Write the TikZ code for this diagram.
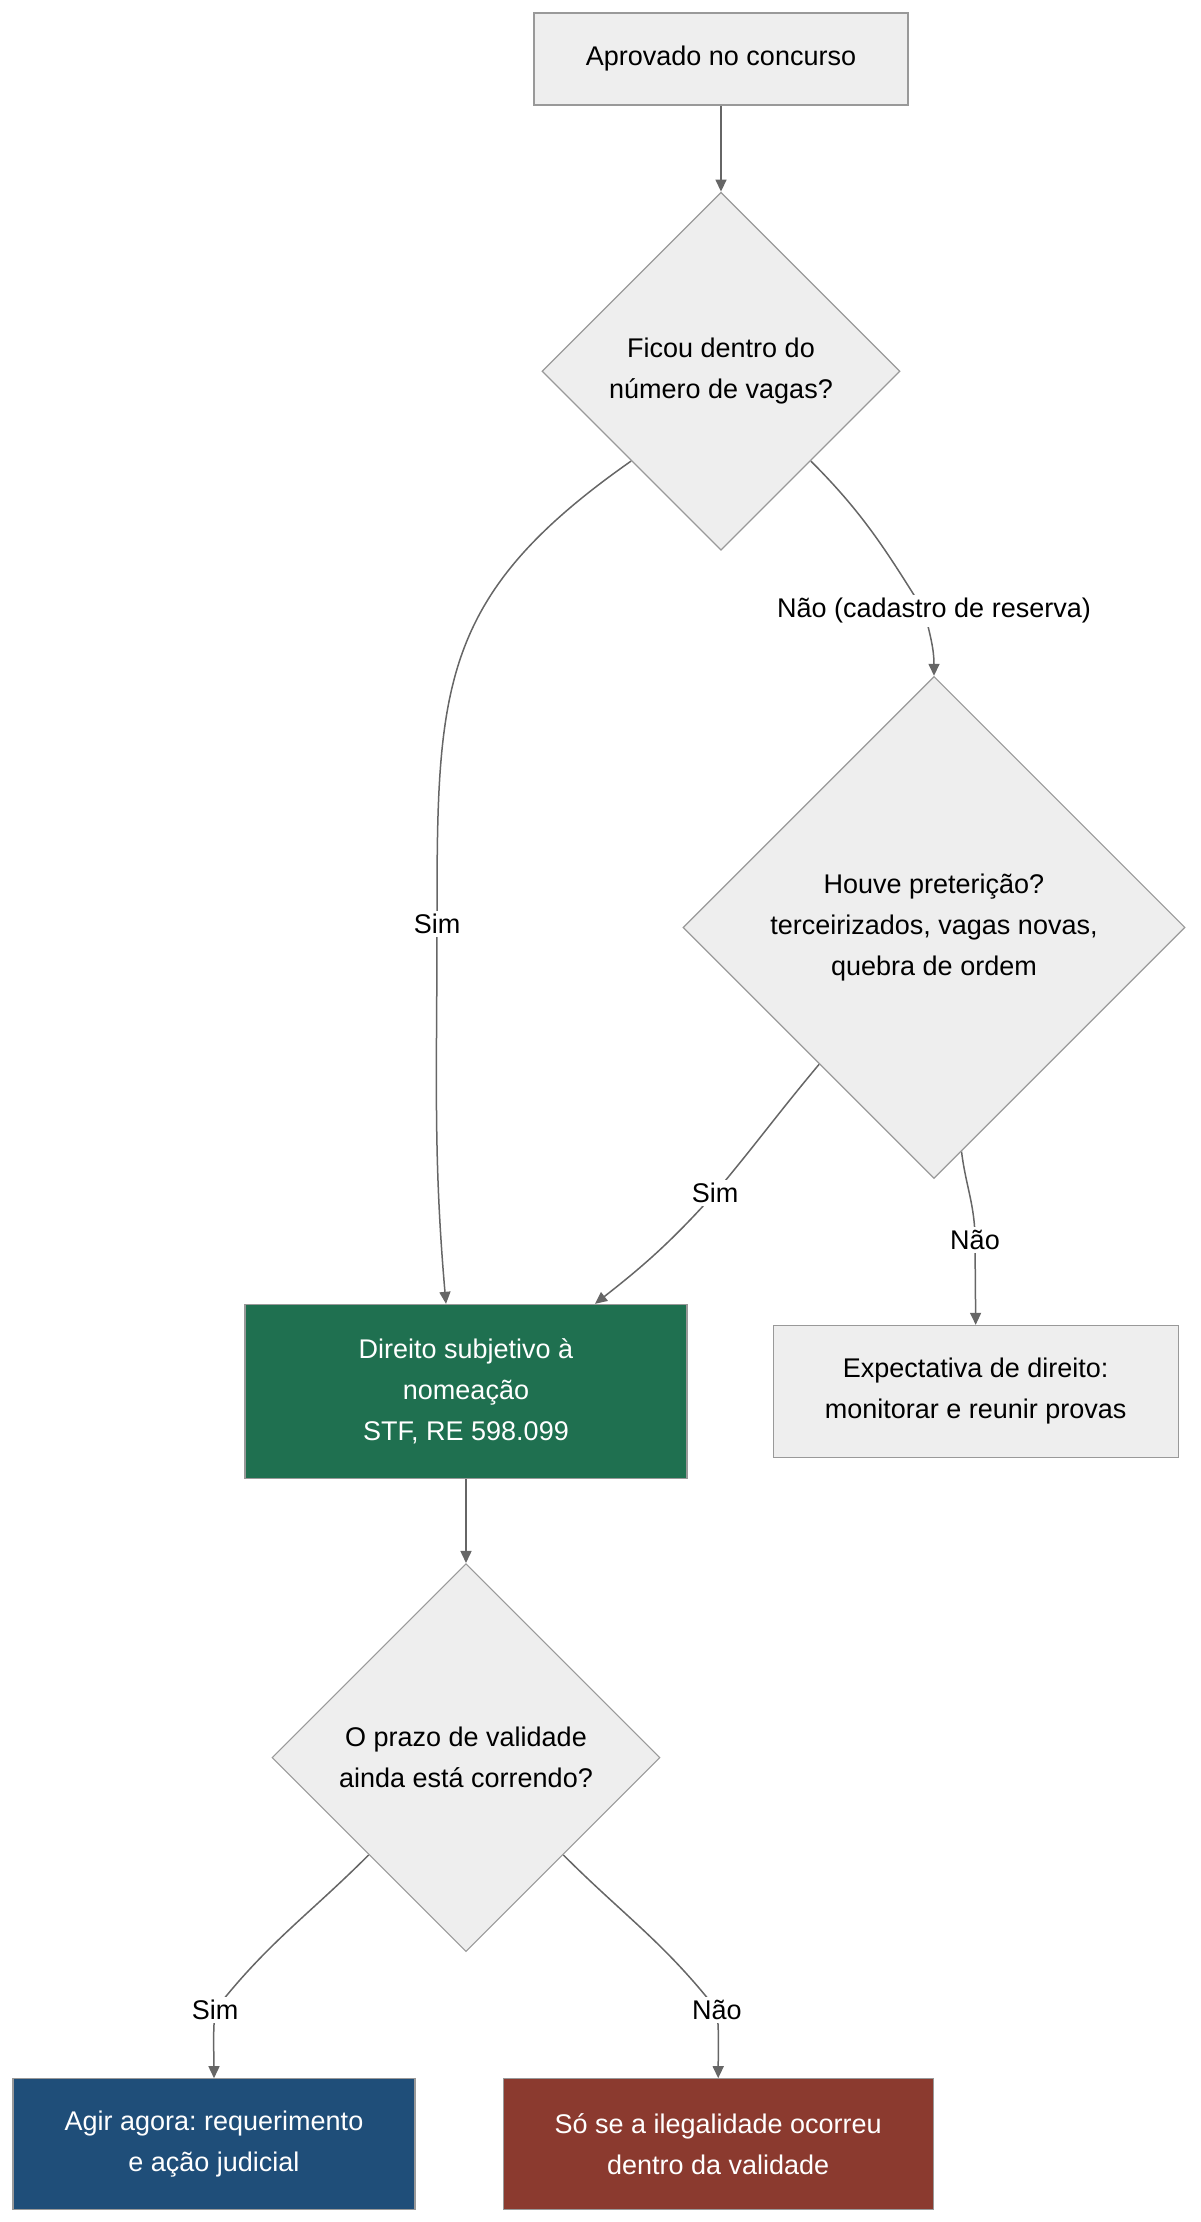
\documentclass[tikz,border=0pt]{standalone}
\usepackage{fontspec}
\setmainfont{Liberation Sans}
\usetikzlibrary{shapes.geometric,arrows.meta,positioning,calc,backgrounds}
\definecolor{boxgray}{HTML}{EEEEEE}
\definecolor{edgegray}{HTML}{999999}
\definecolor{linegray}{HTML}{666666}
\definecolor{okgreen}{HTML}{1F7050}
\definecolor{actblue}{HTML}{1F4E79}
\definecolor{badred}{HTML}{8B3A2F}
\frenchspacing

\begin{document}
\begin{tikzpicture}[
        x=1pt, y=1pt,
        every node/.style={font=\fontsize{13.5}{20.5}\selectfont},
        block/.style={rectangle, draw=edgegray, line width=0.6pt, fill=boxgray, align=center, inner sep=0pt},
        decision/.style={diamond, aspect=1, draw=edgegray, line width=0.6pt, fill=boxgray, align=center, inner sep=0pt},
        lbl/.style={fill=white, inner sep=1.5pt},
        line/.style={draw=linegray, line width=0.75pt, -{Triangle[length=6pt,width=5.5pt]}}
    ]
        \useasboundingbox (0,0) rectangle (600,-1111);

        \node [block, minimum width=187pt, minimum height=46pt] (start) at (360.5,-29.5) {Aprovado no concurso};
        \node [decision, minimum width=179pt, minimum height=179pt, below=43pt of start] (vagas) {Ficou dentro do\\número de vagas?};
        \node [decision, minimum width=251pt, minimum height=251pt, below=62.5pt of vagas, xshift=106.5pt] (pret) {Houve preterição?\\terceirizados, vagas novas,\\quebra de ordem};
        \node [block, minimum width=221pt, minimum height=87pt, fill=okgreen, text=white, below=376.5pt of vagas, xshift=-127.5pt] (direito) {Direito subjetivo à\\nomeação\\STF, RE 598.099};
        \node [block, minimum width=202.5pt, minimum height=66pt, right=42.5pt of direito] (expect) {Expectativa de direito:\\monitorar e reunir provas};
        \node [decision, minimum width=194pt, minimum height=194pt, below=42pt of direito] (prazo) {O prazo de validade\\ainda está correndo?};
        \node [block, minimum width=201pt, minimum height=65.5pt, fill=actblue, text=white, below=63pt of prazo, xshift=-126pt] (agir) {Agir agora: requerimento\\e ação judicial};
        \node [block, minimum width=215pt, minimum height=65.5pt, fill=badred, text=white, right=43.5pt of agir] (sose) {Só se a ilegalidade ocorreu\\dentro da validade};

        % edge labels
        \node [lbl] (sim1) at (218.5,-462) {Sim};
        \node [lbl] (nao1) at (467,-305.5) {Não (cadastro de reserva)};
        \node [lbl] (sim2) at (357.5,-596.5) {Sim};
        \node [lbl] (nao2) at (487.5,-620) {Não};
        \node [lbl] (sim3) at (107.5,-1005) {Sim};
        \node [lbl] (nao3) at (358.5,-1005) {Não};

        \begin{scope}[on background layer]
        \path [line] (start) -- (vagas);
        \path [line] (vagas.south west) to[out=215, in=90, looseness=1.2] (sim1.center) to[out=-90, in=95] ($(direito.north)+(-10,0)$);
        \path [line] (vagas.south east) to[out=-45, in=122] ($(nao1.center)+(-5,0)$) to[out=-75, in=90] (pret.north);
        \path [line] (pret.230) to[out=230, in=50] (sim2.center) to[out=228, in=38] ($(direito.north)+(64.5,0)$);
        \path [line] (pret.-83) to[out=-83, in=90] (nao2.center) -- (expect.north);
        \path [line] (direito) -- (prazo);
        \path [line] (prazo.south west) to[out=-135, in=52] (sim3.center) to[out=-95, in=90] (agir.north);
        \path [line] (prazo.south east) to[out=-45, in=128] (nao3.center) to[out=-85, in=90] (sose.north);
        \end{scope}
\end{tikzpicture}
\end{document}
